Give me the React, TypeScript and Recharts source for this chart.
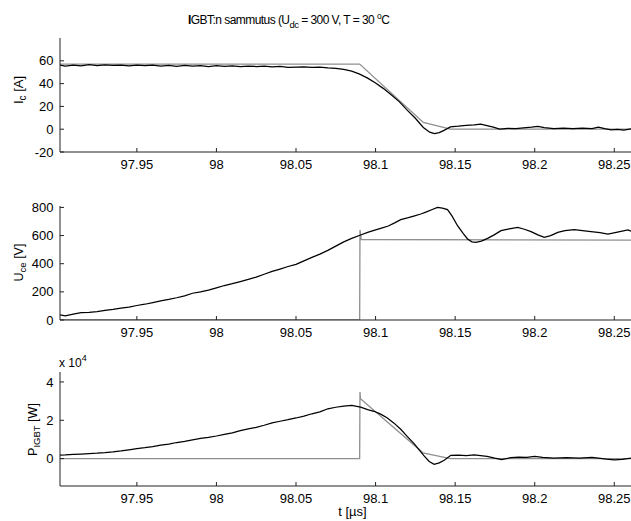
import React from 'react';
import { LineChart, Line, XAxis, YAxis } from 'recharts';

// ---- shared time axis (µs) ----
const timeDomain = [97.9017, 98.2605];
const timeTicks = [97.95, 98, 98.05, 98.1, 98.15, 98.2, 98.25];

// ---- panel 1: collector current Ic [A] ----
const icMeasTime = [97.9017, 97.905, 97.91, 97.915, 97.92, 97.925, 97.93, 97.935, 97.94, 97.945, 97.95, 97.955, 97.96, 97.965, 97.97, 97.975, 97.98, 97.985, 97.99, 97.995, 98.0, 98.005, 98.01, 98.015, 98.02, 98.025, 98.03, 98.035, 98.04, 98.045, 98.05, 98.055, 98.06, 98.065, 98.07, 98.075, 98.08, 98.085, 98.09, 98.095, 98.1, 98.105, 98.11, 98.115, 98.12, 98.125, 98.13, 98.134, 98.137, 98.14, 98.143, 98.147, 98.152, 98.157, 98.162, 98.166, 98.17, 98.174, 98.178, 98.183, 98.188, 98.193, 98.198, 98.202, 98.206, 98.212, 98.218, 98.224, 98.23, 98.236, 98.24, 98.244, 98.248, 98.252, 98.256, 98.2605];
const icMeasValue = [56.2, 55.4, 56.3, 55.6, 56.6, 55.8, 56.4, 55.9, 56.2, 55.5, 56.1, 55.7, 56.2, 55.4, 56.0, 55.2, 56.0, 55.3, 55.8, 55.0, 55.7, 55.1, 55.5, 54.9, 55.4, 55.0, 55.3, 54.6, 55.0, 54.3, 54.4, 54.6, 54.2, 54.5, 53.8, 53.4, 52.5, 51.0, 48.3, 44.8, 40.5, 35.6, 30.0, 24.0, 16.5, 9.6, 1.5, -2.6, -3.8, -3.0, -1.0, 2.0, 2.6, 3.4, 3.8, 4.5, 3.2, 1.8, 0.0, 0.8, 0.4, 1.2, 1.8, 2.5, 1.4, 0.6, 1.0, 0.4, 0.9, 0.6, 1.8, 0.5, -0.6, -0.2, -0.8, 0.3];
const icModelTime = [97.9017, 98.09, 98.13, 98.147, 98.2605];
const icModelValue = [57.1, 57.1, 5.9, 0, 0];
const icTicks = [-20, 0, 20, 40, 60];
const icDomain = [-20, 80];

// ---- panel 2: collector-emitter voltage Uce [V] ----
const uceMeasTime = [97.9017, 97.905, 97.91, 97.915, 97.92, 97.925, 97.93, 97.935, 97.94, 97.945, 97.95, 97.955, 97.96, 97.965, 97.97, 97.975, 97.98, 97.985, 97.99, 97.995, 98.0, 98.005, 98.01, 98.015, 98.02, 98.025, 98.03, 98.035, 98.04, 98.045, 98.05, 98.055, 98.06, 98.065, 98.07, 98.075, 98.08, 98.085, 98.0906, 98.095, 98.1, 98.1032, 98.108, 98.112, 98.1158, 98.12, 98.124, 98.1284, 98.132, 98.136, 98.1389, 98.142, 98.1452, 98.148, 98.1515, 98.155, 98.1578, 98.1605, 98.163, 98.1665, 98.1704, 98.1745, 98.1788, 98.184, 98.1893, 98.1935, 98.1977, 98.202, 98.206, 98.21, 98.2145, 98.219, 98.2249, 98.23, 98.2354, 98.241, 98.246, 98.252, 98.2586, 98.2605];
const uceMeasValue = [37, 30, 42, 52, 55, 60, 68, 75, 84, 92, 103, 112, 124, 136, 146, 158, 172, 190, 200, 212, 228, 245, 258, 273, 288, 305, 325, 345, 362, 380, 395, 420, 445, 468, 495, 525, 555, 580, 604, 622, 640, 651, 668, 690, 713, 725, 738, 753, 768, 787, 800, 795, 784, 740, 670, 615, 576, 555, 552, 560, 580, 605, 635, 648, 658, 645, 628, 605, 587, 600, 623, 635, 642, 635, 628, 620, 611, 625, 640, 632];
const uceModelTime = [97.9017, 98.09, 98.0902, 98.091, 98.2605];
const uceModelValue = [0, 0, 640, 572, 568];
const uceTicks = [0, 200, 400, 600, 800];
const uceDomain = [0, 810];

// ---- panel 3: IGBT power P [W] ----
const pMeasTime = [97.9017, 97.905, 97.91, 97.915, 97.92, 97.925, 97.93, 97.935, 97.94, 97.945, 97.95, 97.955, 97.96, 97.965, 97.97, 97.975, 97.98, 97.985, 97.99, 97.995, 98.0, 98.005, 98.01, 98.015, 98.02, 98.025, 98.03, 98.035, 98.04, 98.045, 98.05, 98.055, 98.06, 98.065, 98.07, 98.075, 98.08, 98.085, 98.0906, 98.095, 98.099, 98.1032, 98.1074, 98.1116, 98.1158, 98.12, 98.1242, 98.1274, 98.1305, 98.1337, 98.1368, 98.14, 98.1431, 98.1473, 98.152, 98.157, 98.162, 98.166, 98.17, 98.175, 98.179, 98.185, 98.19, 98.195, 98.2, 98.205, 98.212, 98.22, 98.228, 98.236, 98.24, 98.245, 98.25, 98.255, 98.2605];
const pMeasValue = [1800, 1900, 2200, 2400, 2600, 2800, 3100, 3500, 4000, 4600, 5200, 5700, 6300, 7000, 7600, 8400, 9000, 9800, 10500, 11100, 11800, 12600, 13400, 14600, 15500, 16300, 17400, 18600, 19500, 20300, 21200, 22200, 23400, 24400, 26000, 26800, 27400, 27800, 26900, 25600, 24700, 23200, 21200, 18500, 15300, 11500, 7800, 4500, 1400, -1500, -3000, -2200, -900, 1700, 1800, 1500, 2000, 1600, 1200, 200, -500, 500, 800, 600, 1200, 600, 300, 500, 200, 600, 300, -300, -600, -400, 200];
const pModelTime = [97.9017, 98.09, 98.0902, 98.0905, 98.1298, 98.147, 98.2605];
const pModelValue = [0, 0, 34800, 31300, 3000, 0, 0];
const pTicks = [0, 20000, 40000];
const pDomain = [-14300, 45200];

const zip = (ts: number[], vs: number[]) => ts.map((t, i) => ({ t, v: vs[i] }));

const FONT = '"Liberation Sans", Arial, Helvetica, sans-serif';
const tickStyle = { fill: '#000', fontSize: 13, fontFamily: FONT };
const fmtT = (v: number) => String(+v.toFixed(2));

function Panel(props: {
  top: number;
  meas: { t: number; v: number }[];
  model: { t: number; v: number }[];
  yDomain: number[];
  yTicks: number[];
  yFmt?: (v: number) => string;
}) {
  const { top, meas, model, yDomain, yTicks, yFmt } = props;
  return (
    <div style={{ position: 'absolute', left: 0, top, width: 631, height: 182 }}>
      <LineChart width={631} height={182} margin={{ top: 38, right: 0, bottom: 0, left: 0 }}>
        <XAxis
          type="number"
          dataKey="t"
          domain={timeDomain}
          ticks={timeTicks}
          allowDataOverflow
          interval={0}
          tickFormatter={fmtT}
          tickSize={-4}
          tickMargin={12}
          height={30}
          stroke="#222"
          tick={tickStyle}
        />
        <YAxis
          type="number"
          domain={yDomain}
          ticks={yTicks}
          allowDataOverflow
          interval={0}
          width={60}
          tickSize={-4}
          tickMargin={10.5}
          stroke="#222"
          tick={tickStyle}
          tickFormatter={yFmt}
        />
        <Line data={model} dataKey="v" type="linear" stroke="#8f8f8f" strokeWidth={1.3} dot={false} isAnimationActive={false} />
        <Line data={meas} dataKey="v" type="linear" stroke="#000" strokeWidth={1.25} dot={false} isAnimationActive={false} />
      </LineChart>
    </div>
  );
}

export default function App() {
  return (
    <div style={{ position: 'absolute', left: 0, top: 0, width: 631, height: 521, background: '#fff', overflow: 'hidden' }}>
      <Panel top={0} meas={zip(icMeasTime, icMeasValue)} model={zip(icModelTime, icModelValue)} yDomain={icDomain} yTicks={icTicks} />
      <Panel top={167.5} meas={zip(uceMeasTime, uceMeasValue)} model={zip(uceModelTime, uceModelValue)} yDomain={uceDomain} yTicks={uceTicks} />
      <Panel top={333.7} meas={zip(pMeasTime, pMeasValue)} model={zip(pModelTime, pModelValue)} yDomain={pDomain} yTicks={pTicks} yFmt={(v: number) => String(v / 10000)} />
      <svg width={631} height={521} style={{ position: 'absolute', left: 0, top: 0, pointerEvents: 'none' }} fontFamily={FONT} fill="#000">
        <text x={188} y={23.5} fontSize={12} letterSpacing={-0.55}>
          <tspan fontWeight="bold">I</tspan>
          <tspan>GBT:n sammutus (U</tspan>
          <tspan fontSize={9.5} dy={4}>dc</tspan>
          <tspan dy={-4}> = 300 V, T = 30 </tspan>
          <tspan fontSize={8.5} dy={-5}>o</tspan>
          <tspan dy={5}>C</tspan>
        </text>
        <text x={22.5} y={90} fontSize={13} textAnchor="middle" transform="rotate(-90 22.5 90)">
          <tspan>I</tspan>
          <tspan fontSize={10} dy={3}>c</tspan>
          <tspan dy={-3}> [A]</tspan>
        </text>
        <text x={23} y={262.5} fontSize={12.5} textAnchor="middle" transform="rotate(-90 23 262.5)">
          <tspan>U</tspan>
          <tspan fontSize={9.5} dy={3}>ce</tspan>
          <tspan dy={-3}> [V]</tspan>
        </text>
        <text x={37} y={429.5} fontSize={12.5} textAnchor="middle" transform="rotate(-90 37 429.5)">
          <tspan>P</tspan>
          <tspan fontSize={9.5} dy={3}>IGBT</tspan>
          <tspan dy={-3}> [W]</tspan>
        </text>
        <text x={59} y={367} fontSize={12}>
          <tspan>x 10</tspan>
          <tspan fontSize={9} dy={-6}>4</tspan>
        </text>
        <text x={352.5} y={516} fontSize={13} textAnchor="middle">t [µs]</text>
      </svg>
    </div>
  );
}
